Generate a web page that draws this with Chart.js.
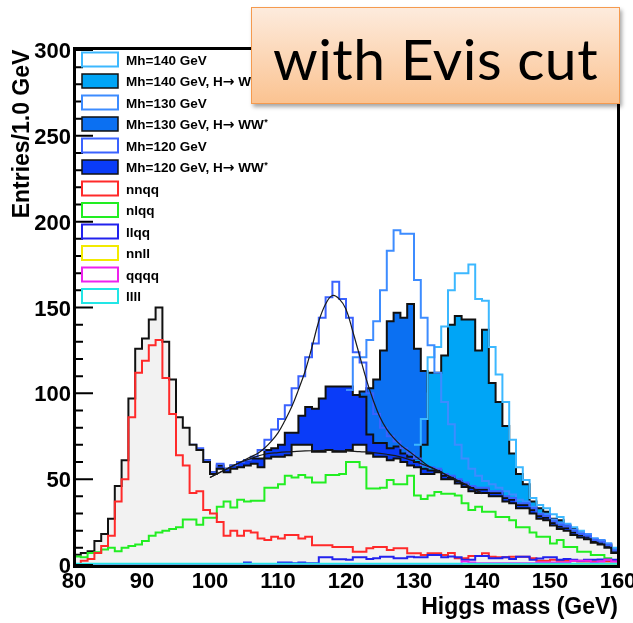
<!DOCTYPE html>
<html>
<head>
<meta charset="utf-8">
<script src="https://cdn.jsdelivr.net/npm/chart.js@4.4.1/dist/chart.umd.min.js"></script>
<style>
html,body{margin:0;padding:0;background:#fff;}
#wrap{position:relative;width:633px;height:623px;overflow:hidden;}
#c{position:absolute;left:0;top:0;}
#title{position:absolute;left:251px;top:7px;width:369px;height:97px;box-sizing:border-box;
  border:1.5px solid #f59a4e;background:linear-gradient(#fdebdd,#fbc391);
  box-shadow:2px 3px 4px rgba(0,0,0,0.35);font-family:Lato,'Open Sans',sans-serif;color:#000;}
#title span{position:absolute;left:0;right:0;text-align:center;top:22px;font-size:57px;line-height:57px;letter-spacing:0.5px;}
</style>
</head>
<body>
<div id="wrap">
<canvas id="c" width="633" height="623"></canvas>
<div id="title"><span>with Evis cut</span></div>
</div>
<script>
// ---------- data (bin low edges, 1 GeV bins) ----------
const massBins = [80,81,82,83,84,85,86,87,88,89,
  90,91,92,93,94,95,96,97,98,99,
  100,101,102,103,104,105,106,107,108,109,
  110,111,112,113,114,115,116,117,118,119,
  120,121,122,123,124,125,126,127,128,129,
  130,131,132,133,134,135,136,137,138,139,
  140,141,142,143,144,145,146,147,148,149,
  150,151,152,153,154,155,156,157,158,159];

const bkgTotal = [6,7,8,14,18,27,46,61,97,126,
  132,143,150,130,108,86,80,70,67,60,
  53,56,54,56,57,58,59,57,62,63,
  63,64,70,70,70,66,66,67,66,66,
  67,70,70,65,63,63,61,62,60,58,
  57,53,53,54,50,50,47.5,45.5,43,42,
  42,40,40,37,36,33,33,30,27,26,
  23,21,20,17.5,16,15,13,12,10,7];

const nnqq = [0.5,2.5,3.5,7,11,17,37,50,86,112,
  119,128,131,109,88,64,58,42,43,32,
  30,25,17,20,17,20,19,15.5,14.5,16.5,
  15.5,17.5,17.5,15.5,16.5,11.5,11.5,11.5,10.5,10.5,
  10.5,7.7,7.7,9.7,10.5,10.5,8.7,9.7,9.7,6.8,
  6.8,5.8,6.8,6.8,5.8,7,4,4,5.2,5.2,
  6.8,4.8,4.5,4.5,4.8,4.8,4.8,3.9,2.5,2.5,
  3,2.5,2.5,2.5,2,2,2,2,2,2];

const nlqq = [5,4.5,7,7.5,9,10,8,10,11,12,
  14,17,19,20,21,22,26.5,26.5,23.5,27.5,
  27.5,34,37,33.5,38,37,37.5,37.5,45,45,
  47,52,51,52.5,51,48,48,52.5,52.5,53,
  60,60,57,44.5,44.5,45,49.5,47,47,52,
  40.5,38.5,40.5,42.5,41.5,41.5,40.5,36,32,34,
  31,31,28,28,26,22,22,19,16.5,16.5,
  12.5,14.5,10.5,10.5,7.7,7.7,5.8,5.8,3.9,2.9];

const llqq = [0,0,0,0,0,0,0,0,0,0,
  0,0,0,0,0,0,0,0,0,0,
  0,0,0,0,0,1.5,0,0,0,0.5,
  1.5,1.5,1,1.5,1,1,4.5,4.5,3.3,3.3,
  3,4.5,4.5,3.5,3.9,4.8,4.8,3.9,3.9,4.8,
  4.5,4.5,5.8,5.8,4.5,5,4.5,3,3,5.2,
  5.2,4,4,4.5,3.5,4.8,4.8,3,3.8,4.5,
  4.5,3,3.5,3,2.5,3,3,3.2,3.2,3];

const nnll = [0,0,0,0,0,0,0,0,0,0,
  0,0,0,0,0,0,0,0,0,0,
  0,0,0,0,0,0,0,0,0,0,
  0,0,0,0,0,0,0,0,0,0,
  0,0,0,0,0,0,0,0,0,0,
  0,0,0,0,0,0,0,0,0,0,
  0,0,0,0,0,0,0,0,0,0,
  0,0,0,0,0,0,0,0,0,0];

const qqqq = [0,0,0,0,0,0,0,0,0,0,
  0,0,0,0,0,0,0,0,0,0,
  0,0,0,0,0,0,0,0,0,0,
  0,0,0,0,0,0,0,0,0,0,
  0,0,0,0,0,0,0,0,0,0,
  0,0,0,0,0,0,0,2,1.5,1,
  1,1,1,1,1,1,1,1,1.5,1.5,
  1.5,1.5,1.5,2.5,2.5,2.5,1.5,2,3,2];

const llll = [0.7,0.7,0.7,0.7,0.7,0.7,0.7,0.7,0.7,0.7,
  0.7,0.7,0.7,0.7,0.7,0.7,0.7,0.7,0.7,0.7,
  0.7,0.7,0.7,0.7,0.7,0.7,0.7,0.7,0.7,0.7,
  0.7,0.7,0.7,0.7,0.7,0.7,0.7,0.7,0.7,0.7,
  0.7,0.7,0.7,0.7,0.7,0.7,0.7,0.7,0.7,0.7,
  0.7,0.7,0.7,0.7,0.7,0.7,0.7,0.7,0.7,0.7,
  0.7,0.7,0.7,0.7,0.7,0.7,0.7,0.7,0.7,0.7,
  0.7,0.7,0.7,0.7,0.7,0.7,0.7,0.7,0.7,0.7];

// stacked signal + background (H -> WW*), null = not drawn
const ww120 = [null,null,null,null,null,null,null,null,null,null,
  null,null,null,null,null,null,null,null,null,61,
  54,58,56,58,60,61,62,62,67,68,
  70,77,77,87,92,91,97,104,104,104,
  104,99,98,76,71,71,68,69,65,63,
  60,56,55,55,52,51,49,47,45,44,
  44,42,42,39,38,35,35,32,28.5,27.5,
  24.5,22.5,21.5,19,17.5,16.5,14,13,11,8];

const ww130 = [null,null,null,null,null,null,null,null,null,null,
  null,null,null,null,null,null,null,null,null,null,
  null,null,null,null,null,null,null,null,null,null,
  64,65,71,71,72,68,69,71,74,78,
  85,95,101,103,108,125,142,147,144,152,
  126,113,101,88,80,71,65,58,52,49,
  47,45,43,41,39,36,36,33,29,28.5,
  25.5,23.5,22.5,19.5,18,17,14.5,14,12,8.5];

const ww140 = [null,null,null,null,null,null,null,null,null,null,
  null,null,null,null,null,null,null,null,null,null,
  null,null,null,null,null,null,null,null,null,null,
  null,null,null,null,null,null,null,null,null,null,
  68,71,71,66,64,64,62,63,61,60,
  62,70,112,112,122,140,145,143,143,125,
  137,106,95,81,65,53,47,37,33,31,
  27,26,23,21,19,17,15,14,12,9];

// total (all channels) signal + background
const mh120 = [null,null,null,null,null,null,null,null,null,null,
  null,null,null,null,null,null,null,70,68,61,
  54,59,56,58,60,61,63,67,73,79,
  85,93,103,110,121,129,144,156,165,155,
  144,124,118,100,88,80,75,72,68,65,
  62,58,57,56,53,52,50,48,46,45,
  45,43,43,40,39,36,36,33,29.5,28.5,
  25.5,23.5,22.5,20,18,17,14.5,13.5,11.5,8.5];

const mh130 = [null,null,null,null,null,null,null,null,null,null,
  null,null,null,null,null,null,null,null,null,null,
  null,null,null,null,null,null,null,null,null,null,
  null,null,null,null,null,null,null,null,null,null,
  102,121,121,131,142,160,183,195,193,193,
  166,144,128,112,95,82,70,62,56,52,
  49,47,45,43,41,38,37,34,30,29.5,
  26.5,24.5,23.5,20.5,19,18,15.5,14.5,12.5,9];

const mh140 = [null,null,null,null,null,null,null,null,null,null,
  null,null,null,null,null,null,null,null,null,null,
  null,null,null,null,null,null,null,null,null,null,
  null,null,null,null,null,null,null,null,null,null,
  null,null,null,null,null,null,null,null,null,null,
  70,85,121,127,139,160,170,170,175,155,
  154,127,111,95,73,57,49.5,39,35,33,
  29.5,28,24,22,20,18,15.5,14.5,12.5,10];

// fit curves (Mh=120 fit: total, and its background part)
const fitMass = [100,101,102,103,104,105,106,107,108,109,110,111,112,113,114,115,116,117,118,119,
  120,121,122,123,124,125,126,127,128,129,130,131,132,133,134,135,136,137,138,139,140];
const fitTotal = [51,53,55,57,59,61,63,65,68,72,77,84,92,102,113,127,142,152,157,155,
  149,136,122,108,96,86,79,74,70,67,64,61,58,56,54,52,50,48,46,44,42];
const fitBkgMass = [100,102,104,106,108,110,112,114,116,118,120,122,124,126,128,130,132,134,136,138,140];
const fitBkg = [51,55,59,62,64.5,65.5,66,66.5,66.7,66.7,66.5,66,65.5,64.5,63,60.5,57.5,54,50,46,41.5];

const xTickValues = [80,90,100,110,120,130,140,150,160];
const xTickLabels = ['80','90','100','110','120','130','140','150','160'];
const yTickValues = [0,50,100,150,200,250,300];
const yTickLabels = ['0','50','100','150','200','250','300'];
const yMinorValues = [10,20,30,40,60,70,80,90,110,120,130,140,160,170,180,190,210,220,230,240,260,270,280,290];

const legendLabels = ['Mh=140 GeV','Mh=140 GeV, H\u2192 WW','Mh=130 GeV','Mh=130 GeV, H\u2192 WW',
  'Mh=120 GeV','Mh=120 GeV, H\u2192 WW','nnqq','nlqq','llqq','nnll','qqqq','llll'];

// ---------- styles ----------
const C = {
  ww120:'#0a3cf8', ww130:'#0b70f2', ww140:'#00a5f6',
  out120:'#3a62ff', out130:'#3d8cff', out140:'#3cb8ff',
  bkgFill:'#f2f2f2', red:'#ff2a2a', green:'#22ee22', blue:'#2222ee',
  yellow:'#f2ea00', magenta:'#ee22ee', cyan:'#22e6e6'
};
const legendStyles = [
  {fill:'#fff', stroke:C.out140, w:2}, {fill:C.ww140, stroke:'#111', w:1.5, star:true},
  {fill:'#fff', stroke:C.out130, w:2}, {fill:C.ww130, stroke:'#111', w:1.5, star:true},
  {fill:'#fff', stroke:C.out120, w:2}, {fill:C.ww120, stroke:'#111', w:1.5, star:true},
  {fill:'#fff', stroke:C.red, w:2}, {fill:'#fff', stroke:C.green, w:2},
  {fill:'#fff', stroke:C.blue, w:2}, {fill:'#fff', stroke:C.yellow, w:2},
  {fill:'#fff', stroke:C.magenta, w:2}, {fill:'#fff', stroke:C.cyan, w:2}
];

function histPoints(values) {
  const pts = [];
  let last = -1;
  values.forEach((v, i) => {
    if (v !== null) { pts.push({x: massBins[i], y: v}); last = i; }
  });
  if (last >= 0) pts.push({x: massBins[last] + 1, y: values[last]});
  return pts;
}
function hist(label, values, opts) {
  return Object.assign({label, data: histPoints(values), stepped: true, pointRadius: 0,
    borderWidth: 2, fill: false, tension: 0}, opts);
}
function curve(label, xs, ys, opts) {
  return Object.assign({label, data: xs.map((x, i) => ({x, y: ys[i]})), pointRadius: 0,
    borderWidth: 1.2, borderColor: '#1a1a1a', fill: false, tension: 0.4}, opts);
}

const FONT = "'Liberation Sans', Arial, Helvetica, sans-serif";

const decor = {
  id: 'decor',
  afterDraw(chart) {
    const ctx = chart.ctx, a = chart.chartArea;
    const xs = chart.scales.x, ys = chart.scales.y;
    ctx.save();
    // frame
    ctx.strokeStyle = '#000';
    ctx.lineWidth = 3;
    ctx.strokeRect(a.left + 0.5, a.top - 1.5, a.right - a.left, a.bottom - a.top + 3);
    // y ticks (inward)
    ctx.lineWidth = 2;
    ctx.beginPath();
    yTickValues.forEach(v => { const y = ys.getPixelForValue(v); ctx.moveTo(a.left, y); ctx.lineTo(a.left + 19, y); });
    yMinorValues.forEach(v => { const y = ys.getPixelForValue(v); ctx.moveTo(a.left, y); ctx.lineTo(a.left + 9, y); });
    ctx.stroke();
    // tick labels
    ctx.fillStyle = '#000';
    ctx.font = 'bold 22px ' + FONT;
    ctx.textAlign = 'right';
    ctx.textBaseline = 'alphabetic';
    yTickValues.forEach((v, i) => ctx.fillText(yTickLabels[i], a.left - 3, ys.getPixelForValue(v) + 8));
    ctx.textAlign = 'center';
    xTickValues.forEach((v, i) => ctx.fillText(xTickLabels[i], xs.getPixelForValue(v), 588));
    // axis titles
    ctx.font = 'bold 23px ' + FONT;
    ctx.textAlign = 'right';
    ctx.fillText('Higgs mass (GeV)', a.right, 614);
    ctx.save();
    ctx.translate(29, 134);
    ctx.rotate(-Math.PI / 2);
    ctx.textAlign = 'center';
    ctx.fillText('Entries/1.0 GeV', 0, 0);
    ctx.restore();
    // legend
    ctx.textAlign = 'left';
    legendLabels.forEach((lab, i) => {
      const st = legendStyles[i];
      const cy = 59.5 + i * 21.5;
      ctx.fillStyle = st.fill;
      ctx.fillRect(82, cy - 7, 36, 14);
      ctx.strokeStyle = st.stroke;
      ctx.lineWidth = st.w;
      ctx.strokeRect(82, cy - 7, 36, 14);
      ctx.fillStyle = '#000';
      const parts = lab.split('\u2192');
      let x = 126;
      ctx.font = 'bold 13.5px ' + FONT;
      ctx.fillText(parts[0], x, cy + 5);
      x += ctx.measureText(parts[0]).width;
      if (parts.length > 1) {
        ctx.font = "bold 14px 'DejaVu Sans', sans-serif";
        ctx.fillText('\u2192', x, cy + 5);
        x += ctx.measureText('\u2192').width;
        ctx.font = 'bold 13.5px ' + FONT;
        ctx.fillText(parts[1], x, cy + 5);
        x += ctx.measureText(parts[1]).width;
      }
      if (st.star) {
        ctx.font = 'bold 9px ' + FONT;
        ctx.fillText('*', x + 0.5, cy + 1);
      }
    });
    ctx.restore();
  }
};

new Chart(document.getElementById('c'), {
  type: 'line',
  data: {
    datasets: [
      curve('fit total', fitMass, fitTotal, {order: 0}),
      curve('fit bkg', fitBkgMass, fitBkg, {order: 0}),
      hist('llll', llll, {borderColor: C.cyan, order: 1}),
      hist('qqqq', qqqq, {borderColor: C.magenta, order: 2}),
      hist('llqq', llqq, {borderColor: C.blue, order: 3}),
      hist('nnqq', nnqq, {borderColor: C.red, order: 4}),
      hist('nlqq', nlqq, {borderColor: C.green, order: 5}),
      hist('nnll', nnll, {borderColor: C.yellow, order: 6}),
      hist('background', bkgTotal, {borderColor: '#111', backgroundColor: C.bkgFill, fill: 'origin', order: 7}),
      hist('Mh=120 GeV', mh120, {borderColor: C.out120, order: 8}),
      hist('Mh=130 GeV', mh130, {borderColor: C.out130, order: 9}),
      hist('Mh=140 GeV', mh140, {borderColor: C.out140, order: 10}),
      hist('Mh=120 GeV, H->WW*', ww120, {borderColor: '#111', backgroundColor: C.ww120, fill: 'origin', order: 11}),
      hist('Mh=140 GeV, H->WW*', ww140, {borderColor: '#111', backgroundColor: C.ww140, fill: 'origin', order: 12}),
      hist('Mh=130 GeV, H->WW*', ww130, {borderColor: '#111', backgroundColor: C.ww130, fill: 'origin', order: 13})
    ]
  },
  options: {
    responsive: false,
    devicePixelRatio: 1,
    animation: false,
    layout: {padding: {left: 74, right: 15, top: 50, bottom: 58}},
    scales: {
      x: {type: 'linear', min: 80, max: 160, display: false},
      y: {type: 'linear', min: 0, max: 300, display: false}
    },
    plugins: {legend: {display: false}, tooltip: {enabled: false}}
  },
  plugins: [decor]
});
</script>
</body>
</html>
